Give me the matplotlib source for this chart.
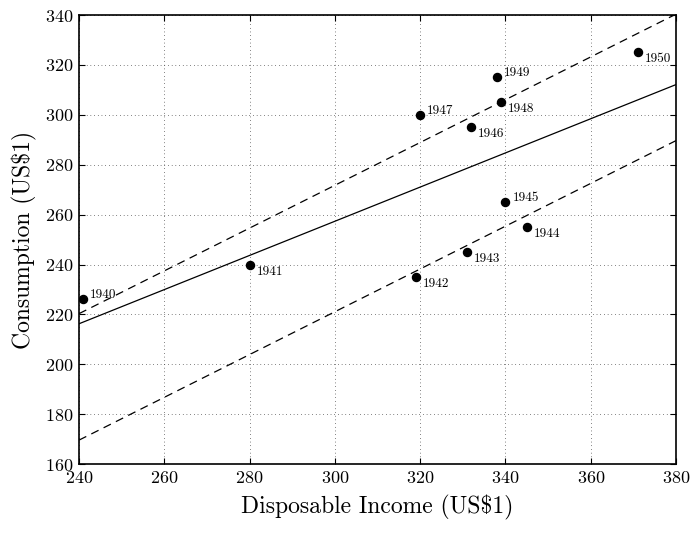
import numpy as np
import matplotlib
matplotlib.use("Agg")
import matplotlib.pyplot as plt

plt.rcParams['font.family'] = ['cmr10', 'DejaVu Serif']
plt.rcParams['mathtext.fontset'] = 'cm'
plt.rcParams['axes.formatter.use_mathtext'] = True

years = [1940, 1941, 1942, 1943, 1944, 1945, 1946, 1947, 1948, 1949, 1950]
income = [241, 280, 319, 331, 345, 340, 332, 320, 339, 338, 371]
consumption = [226, 240, 235, 245, 255, 265, 295, 300, 305, 315, 325]
war = [0, 0, 1, 1, 1, 1, 0, 0, 0, 0, 0]

# these labels sit up-right of the dot, the rest down-right
above = [1940, 1945, 1947, 1949]

X = np.array(income, dtype=float)
C = np.array(consumption, dtype=float)
W = np.array(war, dtype=float)

# simple regression
b1, a1 = np.polyfit(X, C, 1)
# regression with war dummy
A = np.column_stack([np.ones_like(X), X, W])
coef, *_ = np.linalg.lstsq(A, C, rcond=None)

fig = plt.figure(figsize=(6.93, 5.46), dpi=100)
ax = fig.add_axes([0.114, 0.150, 0.8615, 0.8225])

xs = np.array([240, 380])
ax.plot(xs, a1 + b1 * xs, 'k-', lw=0.9)
ax.plot(xs, coef[0] + coef[1] * xs, 'k--', lw=0.9, dashes=(6.5, 4.5))
ax.plot(xs, coef[0] + coef[2] + coef[1] * xs, 'k--', lw=0.9, dashes=(6.5, 4.5))

ax.plot(X, C, 'ko', ms=5.8)
for yr, x, y in zip(years, X, C):
    dy = 3 if yr in above else -5
    ax.annotate(str(yr), (x, y), xytext=(5, dy), textcoords='offset points',
                fontsize=9.5, va='center', ha='left')

ax.set_xlim(240, 380)
ax.set_ylim(160, 340)
ax.set_xticks(np.arange(240, 381, 20))
ax.set_yticks(np.arange(160, 341, 20))
ax.grid(True, color='#333333', linestyle=(0, (0.6, 3.2)), linewidth=0.7)
ax.tick_params(direction='in', top=True, right=True, length=4, labelsize=13)
ax.tick_params(axis='x', pad=4.5)
ax.tick_params(axis='y', pad=4)
for sp in ax.spines.values():
    sp.set_linewidth(1.2)
ax.set_xlabel('Disposable Income (US\\$1)', fontsize=17, labelpad=6)
ax.set_ylabel('Consumption (US\\$1)', fontsize=17, labelpad=6)

fig.savefig('out.png', dpi=100)
